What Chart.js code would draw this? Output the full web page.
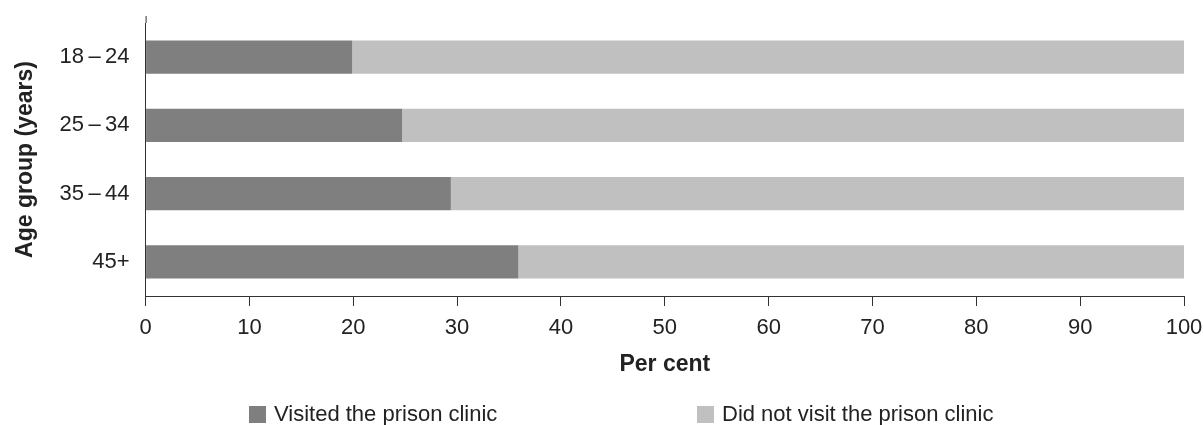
<!DOCTYPE html>
<html>
<head>
<meta charset="utf-8">
<script src="https://cdn.jsdelivr.net/npm/chart.js@4.4.1/dist/chart.umd.min.js"></script>
<style>
  body { margin: 0; background: #fff; }
  #wrap { position: relative; width: 1204px; height: 425px; }
  #legend { position: absolute; left: 0; top: 401px; width: 1204px; height: 26px;
            font: 22px 'Liberation Sans', Arial, sans-serif; color: #222; }
  .item { position: absolute; top: 0; height: 26px; display: flex; align-items: center; white-space: nowrap; }
  .box { width: 17px; height: 17px; margin-right: 8px; }
</style>
</head>
<body>
<div id="wrap">
  <canvas id="chart" width="1204" height="425"></canvas>
  <div id="legend"></div>
</div>
<script>
// data
const ageGroups = ['18\u2009\u2013\u200924', '25\u2009\u2013\u200934', '35\u2009\u2013\u200944', '45+'];
const visited = [19.9, 24.7, 29.4, 35.9];
const notVisited = [80.1, 75.3, 70.6, 64.1];
const seriesNames = ['Visited the prison clinic', 'Did not visit the prison clinic'];
const xTicks = [0, 10, 20, 30, 40, 50, 60, 70, 80, 90, 100];

const colors = ['#7f7f7f', '#c0c0c0'];
const fontFamily = "'Liberation Sans', Arial, sans-serif";
const axisColor = '#333333';

// y axis line in the original runs a little above the top bar band
const axisExtend = {
    id: 'axisExtend',
    afterDraw(chart) {
        const { ctx, chartArea } = chart;
        ctx.save();
        ctx.strokeStyle = axisColor;
        ctx.lineWidth = 1;
        ctx.beginPath();
        ctx.moveTo(chartArea.left + 0.5, chartArea.top - 7);
        ctx.lineTo(chartArea.left + 0.5, chartArea.top);
        ctx.stroke();
        ctx.restore();
    }
};

new Chart(document.getElementById('chart'), {
    type: 'bar',
    data: {
        labels: ageGroups,
        datasets: [
            { label: seriesNames[0], data: visited, backgroundColor: colors[0] },
            { label: seriesNames[1], data: notVisited, backgroundColor: colors[1] }
        ]
    },
    options: {
        indexAxis: 'y',
        responsive: false,
        animation: false,
        barPercentage: 0.49,
        categoryPercentage: 1,
        layout: { padding: { top: 23, right: 0, left: 12, bottom: 47 } },
        plugins: {
            legend: { display: false },
            tooltip: { enabled: false }
        },
        scales: {
            x: {
                stacked: true,
                min: 0,
                max: 100,
                afterBuildTicks: axis => { axis.ticks = xTicks.map(v => ({ value: v })); },
                afterFit: axis => { axis.paddingRight = 20; }, // let "100" hang to the edge
                grid: { drawOnChartArea: false, drawTicks: true, tickLength: 10, color: axisColor },
                border: { color: axisColor, width: 1 },
                ticks: { color: '#222', padding: 9, maxRotation: 0, font: { family: fontFamily, size: 22 } },
                title: { display: true, text: 'Per cent', color: '#222', padding: { top: 0, bottom: 0 },
                         font: { family: fontFamily, size: 23, weight: 'bold' } }
            },
            y: {
                stacked: true,
                grid: { display: false },
                border: { color: axisColor, width: 1 },
                ticks: { color: '#222', padding: 8, font: { family: fontFamily, size: 22 } },
                title: { display: true, text: 'Age group (years)', color: '#222', padding: { top: 0, bottom: 12 },
                         font: { family: fontFamily, size: 23, weight: 'bold' } }
            }
        }
    },
    plugins: [axisExtend]
});

// legend built from the same series names and colours
const legend = document.getElementById('legend');
const legendLeft = [249, 697];
seriesNames.forEach((name, i) => {
    const item = document.createElement('div');
    item.className = 'item';
    item.style.left = legendLeft[i] + 'px';
    item.innerHTML = '<span class="box" style="background:' + colors[i] + '"></span><span>' + name + '</span>';
    legend.appendChild(item);
});
</script>
</body>
</html>
